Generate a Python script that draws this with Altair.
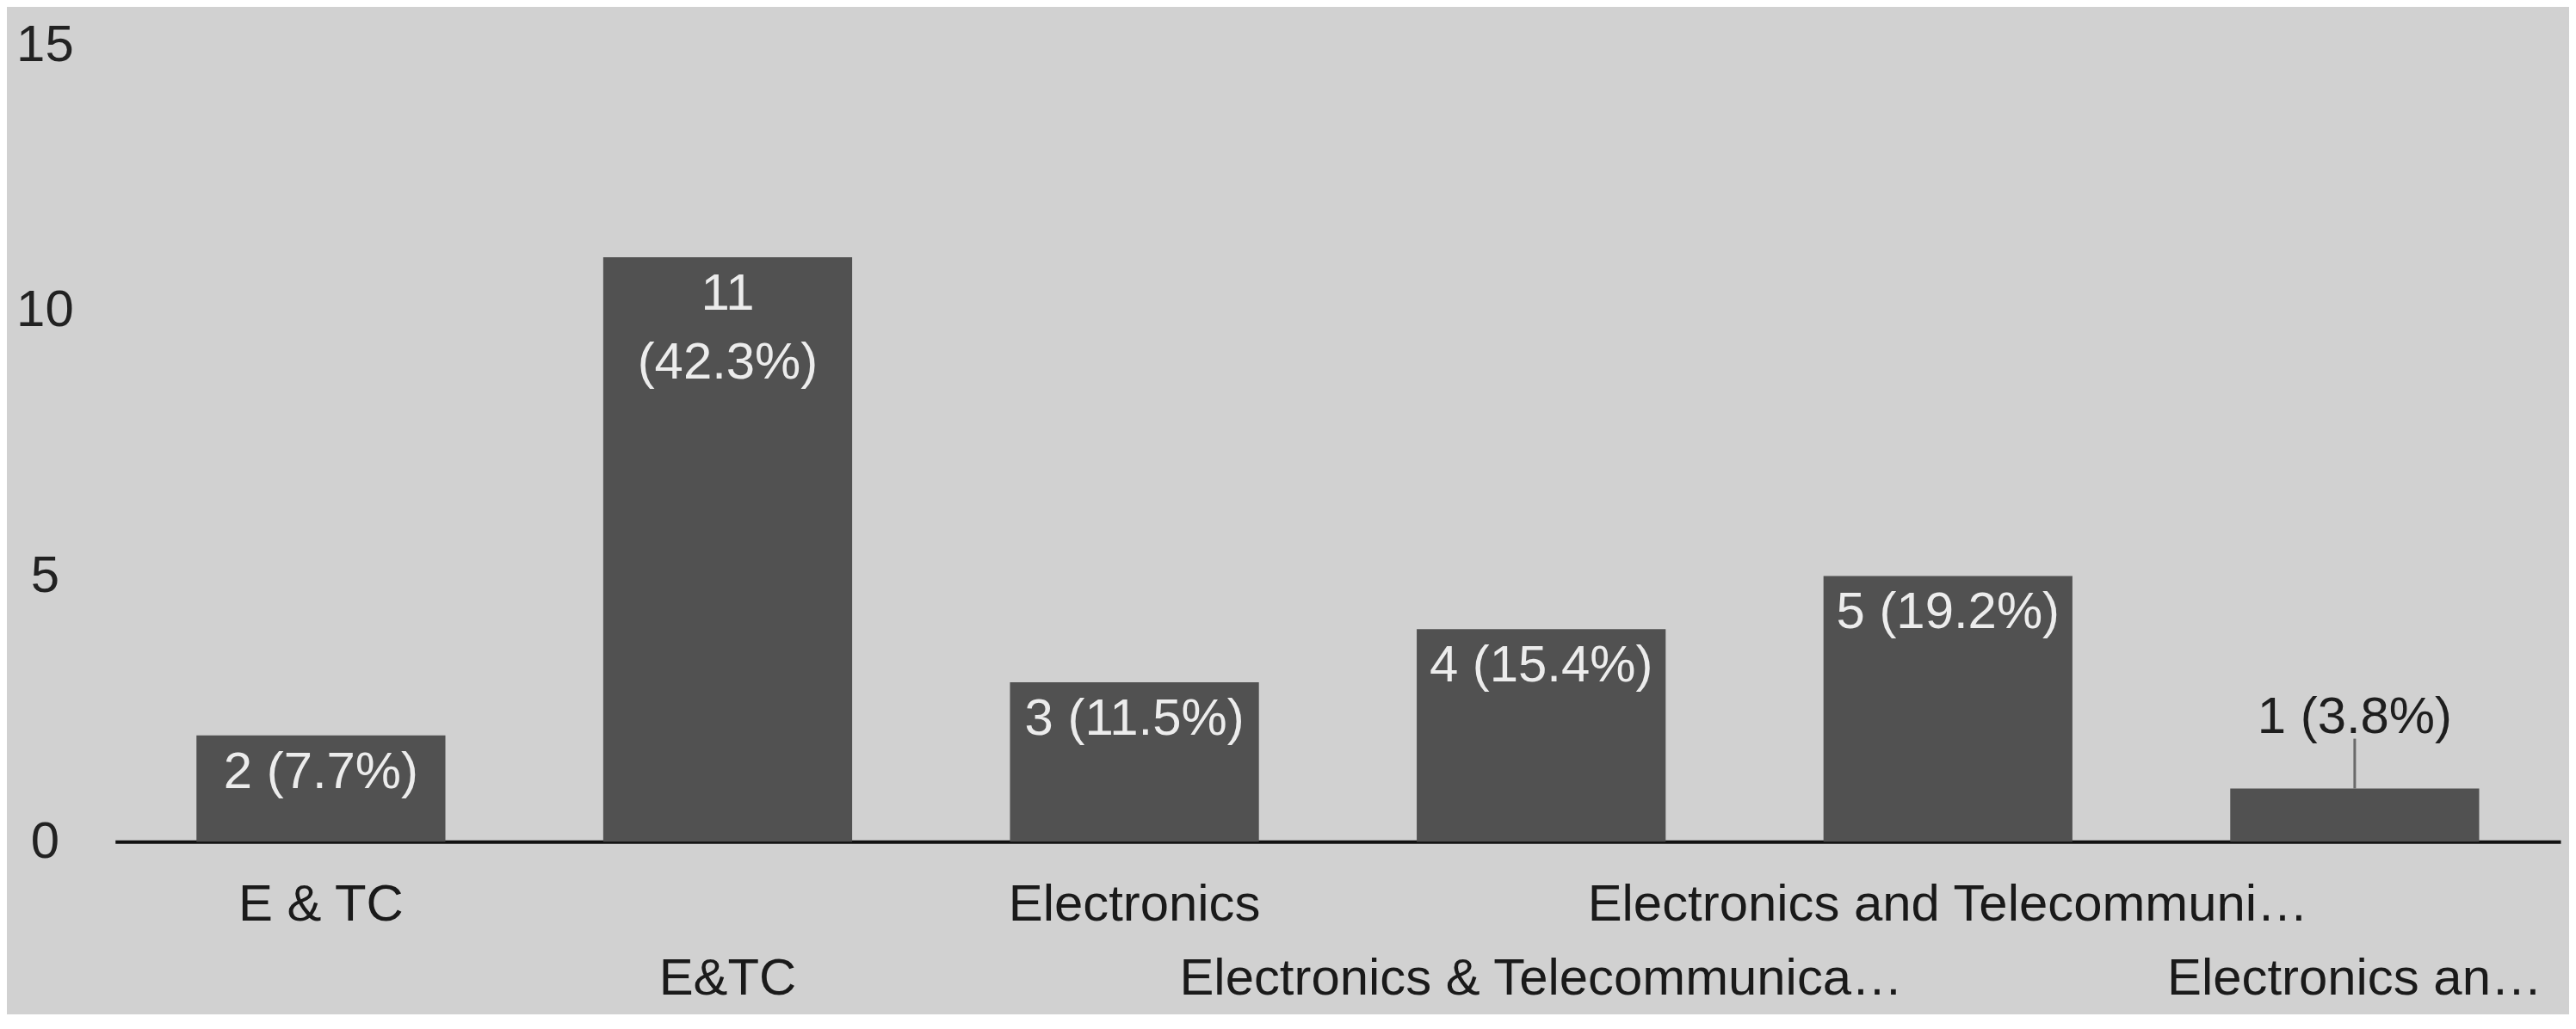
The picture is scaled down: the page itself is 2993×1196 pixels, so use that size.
import altair as alt
import pandas as pd

categories = [
    "E & TC",
    "E&TC",
    "Electronics",
    "Electronics & Telecommunica…",
    "Electronics and Telecommuni…",
    "Electronics an…",
]
counts = [2, 11, 3, 4, 5, 1]
percents = ["7.7%", "42.3%", "11.5%", "15.4%", "19.2%", "3.8%"]
y_ticks = [0, 5, 10, 15]

labels = [f"{c}\n({p})" if c >= 10 else f"{c} ({p})" for c, p in zip(counts, percents)]
df = pd.DataFrame({
    "cat": categories,
    "count": counts,
    "label": labels,
    "row": [i % 2 for i in range(len(categories))],
    "inside": [c >= 2 for c in counts],
})

W, H = 2847, 928
FONT = "Liberation Sans"
FS = 60

x = alt.X("cat:N", sort=categories,
          scale=alt.Scale(paddingInner=0.388, paddingOuter=0.2),
          axis=alt.Axis(title=None, labels=False, ticks=False, domain=True,
                        domainColor="#111111", domainWidth=4))
y = alt.Y("count:Q", scale=alt.Scale(domain=[0, 15], nice=False),
          axis=alt.Axis(title=None, values=y_ticks, format="d", grid=False, domain=False,
                        ticks=False, labelFontSize=FS, labelFont=FONT,
                        labelAlign="center", labelPadding=82, labelColor="#222222"))

base = alt.Chart(df)

bars = base.mark_bar(color="#515151").encode(x=x, y=y)

inside = base.transform_filter("datum.inside").mark_text(
    color="#ececec", fontSize=FS, font=FONT, baseline="top", dy=14,
    lineBreak="\n", lineHeight=80
).encode(x=alt.X("cat:N", sort=categories), y=alt.Y("count:Q"), text="label:N")

outside = base.transform_filter("!datum.inside").mark_text(
    color="#1e1e1e", fontSize=FS, font=FONT, baseline="alphabetic", dy=-65
).encode(x=alt.X("cat:N", sort=categories), y=alt.Y("count:Q"), text="label:N")

leader = base.transform_filter("!datum.inside").mark_rule(
    color="#6a6a6a", strokeWidth=3, y2Offset=-58
).encode(x=alt.X("cat:N", sort=categories), y=alt.Y("count:Q"), y2=alt.Y2("count:Q"))

row0 = base.transform_filter("datum.row == 0").mark_text(
    color="#1a1a1a", fontSize=FS, font=FONT, baseline="middle"
).encode(x=alt.X("cat:N", sort=categories), y=alt.value(H + 74), text="cat:N")

row1 = base.transform_filter("datum.row == 1").mark_text(
    color="#1a1a1a", fontSize=FS, font=FONT, baseline="middle"
).encode(x=alt.X("cat:N", sort=categories), y=alt.value(H + 160), text="cat:N")

chart = alt.layer(bars, inside, outside, leader, row0, row1).properties(
    width=W, height=H,
    autosize=alt.AutoSizeParams(type="none"),
    padding={"left": 126, "top": 43, "right": 10, "bottom": 200},
).configure(background="#d1d1d1").configure_view(stroke=None)

chart.save("out.html", embed_options={"renderer": "svg", "actions": False})
